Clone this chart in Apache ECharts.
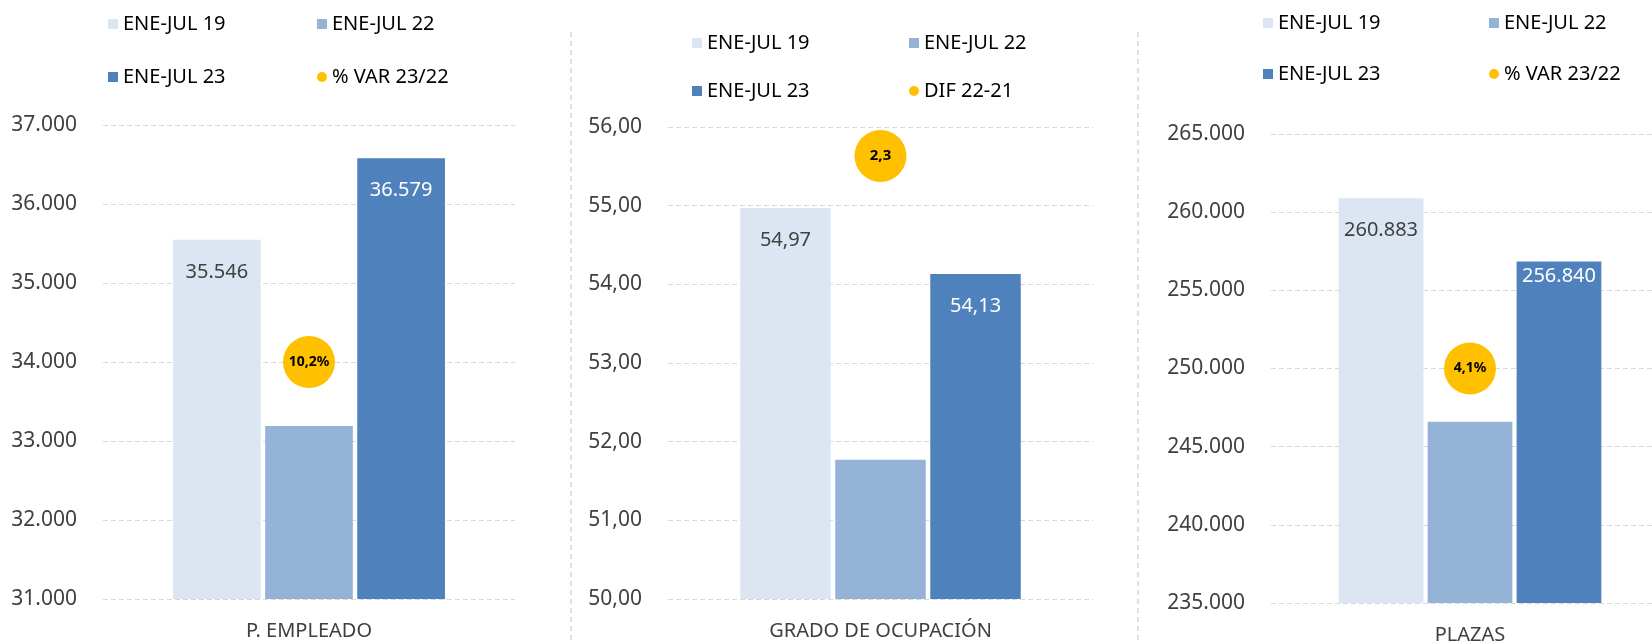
<!DOCTYPE html>
<html>
<head>
<meta charset="utf-8">
<script src="https://cdn.jsdelivr.net/npm/echarts@6/dist/echarts.min.js"></script>
<style>
  html, body { margin: 0; padding: 0; background: #fff; }
  #chart { width: 1652px; height: 644px; }
</style>
</head>
<body>
<div id="chart"></div>
<script>
  // datos
  const empleadoCat = ["P. EMPLEADO"]
  const empleado19 = [35546]
  const empleado22 = [33190]
  const empleado23 = [36579]
  const empleadoVar = [10.2]
  const empleadoTicks = [31000, 37000, 1000]

  const ocupCat = ["GRADO DE OCUPACIÓN"]
  const ocup19 = [54.97]
  const ocup22 = [51.77]
  const ocup23 = [54.13]
  const ocupDif = [2.3]
  const ocupTicks = [50, 56, 1]

  const plazasCat = ["PLAZAS"]
  const plazas19 = [260883]
  const plazas22 = [246600]
  const plazas23 = [256840]
  const plazasVar = [4.1]
  const plazasTicks = [235000, 265000, 5000]

  const serieNames = ["ENE-JUL 19", "ENE-JUL 22", "ENE-JUL 23"]
  const varName = "% VAR 23/22"
  const difName = "DIF 22-21"

  const c19 = "#dce6f2"
  const c22 = "#95b3d7"
  const c23 = "#4f81bd"
  const cDot = "#ffc000"
  const txt = "#404040"

  function fmt(v, dec) {
    const s = Number(v).toFixed(dec)
    const parts = s.split(".")
    const ip = parts[0].replace(/\B(?=(\d{3})+(?!\d))/g, ".")
    return parts[1] ? ip + "," + parts[1] : ip
  }

  const grids = [
    { left: 103, top: 125, width: 412, height: 474, outerBoundsMode: "none" },
    { left: 668, top: 127, width: 425, height: 472, outerBoundsMode: "none" },
    { left: 1271, top: 134, width: 398, height: 469, outerBoundsMode: "none" },
  ]

  function xAxis(i, cats) {
    return {
      type: "category",
      gridIndex: i,
      data: cats,
      axisLine: { show: false },
      axisTick: { show: false },
      axisLabel: { color: txt, fontSize: 20, margin: 22 },
    }
  }

  function yAxis(i, ticks, dec) {
    return {
      type: "value",
      gridIndex: i,
      min: ticks[0],
      max: ticks[1],
      interval: ticks[2],
      axisLine: { show: false },
      axisTick: { show: false },
      axisLabel: {
        color: txt,
        fontSize: 21,
        margin: 26,
        formatter: (v) => fmt(v, dec),
      },
      splitLine: { lineStyle: { color: "#d9d9d9", type: [5, 3] } },
    }
  }

  // eje secundario oculto para las burbujas
  function yAxis2(i, max) {
    return { type: "value", gridIndex: i, min: 0, max: max, show: false, splitLine: { show: false } }
  }

  function bars(i, d19, d22, d23, dec, dist23) {
    const common = {
      type: "bar",
      xAxisIndex: i,
      yAxisIndex: i * 2,
      barGap: "5%",
      barCategoryGap: "34%",
    }
    return [
      {
        ...common,
        name: serieNames[0],
        data: d19,
        itemStyle: { color: c19 },
        label: {
          show: true,
          position: "insideTop",
          distance: 22,
          color: txt,
          fontSize: 20,
          formatter: (p) => fmt(p.value, dec),
        },
      },
      { ...common, name: serieNames[1], data: d22, itemStyle: { color: c22 } },
      {
        ...common,
        name: serieNames[2],
        data: d23,
        itemStyle: { color: c23 },
        label: {
          show: true,
          position: "insideTop",
          distance: dist23,
          color: "#fff",
          fontSize: 20,
          formatter: (p) => fmt(p.value, dec),
        },
      },
    ]
  }

  function bubble(i, name, data, suffix, size) {
    return {
      type: "scatter",
      name: name,
      xAxisIndex: i,
      yAxisIndex: i * 2 + 1,
      data: data,
      symbolSize: 52,
      z: 5,
      itemStyle: { color: cDot, opacity: 1 },
      label: {
        show: true,
        position: "inside",
        color: "#000",
        fontWeight: "bold",
        fontSize: size,
        formatter: (p) => fmt(p.value, 1) + suffix,
      },
    }
  }

  function legend(left, top, gap, names) {
    return {
      orient: "vertical",
      left: left,
      top: top,
      itemGap: gap,
      itemWidth: 10,
      itemHeight: 10,
      selectedMode: false,
      textStyle: { color: "#000", fontSize: 20 },
      data: names.map((n) =>
        n === varName || n === difName ? { name: n, icon: "circle" } : { name: n, icon: "rect" }
      ),
    }
  }

  const option = {
    backgroundColor: "#fff",
    animation: false,
    textStyle: { fontFamily: "Noto Sans" },
    grid: grids,
    legend: [
      legend(103, 9, 33, [serieNames[0], serieNames[2]]),
      legend(312, 9, 33, [serieNames[1], varName]),
      legend(687, 28, 28, [serieNames[0], serieNames[2]]),
      legend(904, 28, 28, [serieNames[1], difName]),
      legend(1258, 8, 31, [serieNames[0], serieNames[2]]),
      legend(1484, 8, 31, [serieNames[1], varName]),
    ],
    xAxis: [xAxis(0, empleadoCat), xAxis(1, ocupCat), xAxis(2, plazasCat)],
    yAxis: [
      yAxis(0, empleadoTicks, 0),
      yAxis2(0, 20.4),
      yAxis(1, ocupTicks, 2),
      yAxis2(1, 2.45),
      yAxis(2, plazasTicks, 0),
      yAxis2(2, 8.2),
    ],
    series: [
      ...bars(0, empleado19, empleado22, empleado23, 0, 22),
      bubble(0, varName, empleadoVar, "%", 14),
      ...bars(1, ocup19, ocup22, ocup23, 2, 22),
      bubble(1, difName, ocupDif, "", 15),
      ...bars(2, plazas19, plazas22, plazas23, 0, 5),
      bubble(2, varName, plazasVar, "%", 14),
    ],
    graphic: [571, 1138].map((x) => ({
      type: "line",
      shape: { x1: x, y1: 32, x2: x, y2: 644 },
      style: { stroke: "#bfbfbf", lineWidth: 1, lineDash: [5, 4] },
      silent: true,
    })),
  }

  const myChart = echarts.init(document.getElementById("chart"))
  myChart.setOption(option)
</script>
</body>
</html>
